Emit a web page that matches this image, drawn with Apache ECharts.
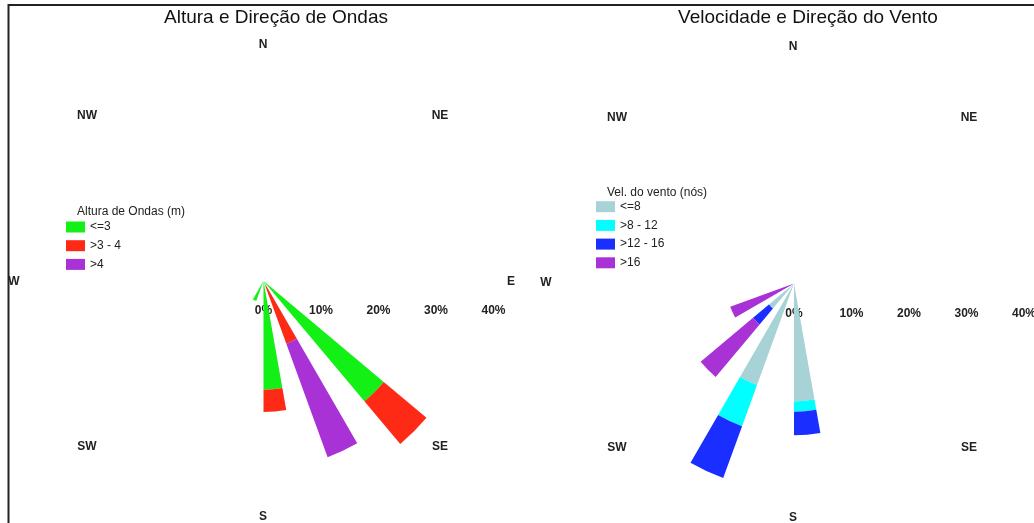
<!DOCTYPE html>
<html>
<head>
<meta charset="utf-8">
<script src="https://cdn.jsdelivr.net/npm/echarts@6/dist/echarts.min.js"></script>
<style>
html,body{margin:0;padding:0;background:#fff;}
#c{width:1034px;height:523px;}
</style>
</head>
<body>
<div id="c"></div>
<script>
// 36 direction bins (start bearing, degrees clockwise from North), ordered clockwise from East
const binStarts = [90,100,110,120,130,140,150,160,170,180,190,200,210,220,230,240,250,260,
                   270,280,290,300,310,320,330,340,350,0,10,20,30,40,50,60,70,80];

// Left rose: wave height (% frequency)
const waveBearings = [130, 150, 170, 200];
const waveLe3      = [27.3, 1.0, 18.9, 3.7];
const wave3to4     = [9.7, 10.6, 3.9, 0];
const waveGt4      = [0, 21.0, 0, 0];
const waveNames    = ['<=3', '>3 - 4', '>4'];

// Right rose: wind speed (% frequency)
const windBearings = [170, 200, 220, 240];
const windLe8      = [20.5, 18.8, 5.7, 0];
const wind8to12    = [1.8, 7.6, 0, 0];
const wind12to16   = [4.1, 9.6, 3.6, 0];
const windGt16     = [0, 0, 11.9, 11.8];
const windNames    = ['<=8', '>8 - 12', '>12 - 16', '>16'];

const radialTicks = [0, 10, 20, 30, 40];
const compass = ['N','NE','E','SE','S','SW','W','NW'];

function spread(bearings, vals) {
  const out = binStarts.map(() => 0);
  bearings.forEach((b, i) => { out[binStarts.indexOf(b)] = vals[i]; });
  return out;
}

const FONT = "'Liberation Sans', Arial, Helvetica, sans-serif";
const chart = echarts.init(document.getElementById('c'), null, {renderer: 'canvas'});

function angleAxis(idx) {
  return {
    polarIndex: idx, type: 'category', data: binStarts.map(String),
    startAngle: 0, clockwise: true, boundaryGap: true,
    axisLine: {show: false}, axisTick: {show: false},
    axisLabel: {show: false}, splitLine: {show: false}, splitArea: {show: false}
  };
}
function radiusAxis(idx) {
  return {
    polarIndex: idx, type: 'value', min: radialTicks[0], max: radialTicks[radialTicks.length - 1], interval: 10,
    axisLine: {show: false}, axisTick: {show: false}, splitLine: {show: false},
    axisLabel: {formatter: '{value}%', fontFamily: FONT, fontSize: 12, fontWeight: 'bold', color: '#222',
                margin: -30, verticalAlign: 'middle', align: 'center'}
  };
}
function barSeries(name, polarIndex, data, color) {
  return {
    type: 'bar', name: name, coordinateSystem: 'polar', polarIndex: polarIndex,
    stack: 'p' + polarIndex, data: data, barCategoryGap: '0%',
    itemStyle: {color: color}, emphasis: {disabled: true}, animation: false
  };
}

function txt(text, x, y, font, fill, align) {
  return {type: 'text', x: x, y: y, silent: true,
    style: {text: text, font: font, fill: fill, align: align || 'center', verticalAlign: 'middle'}};
}

const leftCompassPos  = [[263,45],[440,116],[511,282],[440,447],[263,517],[87,447],[14,282],[87,116]];
const rightCompassPos = [[793,47],[969,118],[1041,283],[969,448],[793,518],[617,448],[546,283],[617,118]];

const graphics = [
  {type: 'rect', silent: true, shape: {x: 8.5, y: 5, width: 1200, height: 700},
   style: {fill: 'none', stroke: '#222', lineWidth: 2}},
  txt('Altura e Direção de Ondas', 276, 18, '19px ' + FONT, '#111'),
  txt('Velocidade e Direção do Vento', 808, 18, '19px ' + FONT, '#111'),
  txt('Altura de Ondas (m)', 77, 212, '12px ' + FONT, '#222', 'left'),
  txt('Vel. do vento (nós)', 607, 193, '12px ' + FONT, '#222', 'left')
];
compass.forEach((c, i) => {
  graphics.push(txt(c, leftCompassPos[i][0], leftCompassPos[i][1], 'bold 12px ' + FONT, '#222'));
  graphics.push(txt(c, rightCompassPos[i][0], rightCompassPos[i][1], 'bold 12px ' + FONT, '#222'));
});

const legendCommon = {
  orient: 'vertical', itemWidth: 19, itemHeight: 11, itemGap: 6.7, icon: 'rect', padding: 0,
  textStyle: {fontFamily: FONT, fontSize: 12, color: '#222', lineHeight: 12}, selectedMode: false
};

chart.setOption({
  animation: false,
  backgroundColor: '#fff',
  polar: [
    {center: [263.5, 281], radius: 230},
    {center: [794, 283.5], radius: 230}
  ],
  angleAxis: [angleAxis(0), angleAxis(1)],
  radiusAxis: [radiusAxis(0), radiusAxis(1)],
  legend: [
    Object.assign({}, legendCommon, {data: waveNames, left: 66, top: 221}),
    Object.assign({}, legendCommon, {data: windNames, left: 596, top: 200.7})
  ],
  graphic: graphics,
  series: [
    barSeries(waveNames[0], 0, spread(waveBearings, waveLe3), '#12f016'),
    barSeries(waveNames[1], 0, spread(waveBearings, wave3to4), '#ff2a16'),
    barSeries(waveNames[2], 0, spread(waveBearings, waveGt4), '#a832d6'),
    barSeries(windNames[0], 1, spread(windBearings, windLe8), '#a8d3d6'),
    barSeries(windNames[1], 1, spread(windBearings, wind8to12), '#00ffff'),
    barSeries(windNames[2], 1, spread(windBearings, wind12to16), '#1a2eff'),
    barSeries(windNames[3], 1, spread(windBearings, windGt16), '#a832d6')
  ]
});
</script>
</body>
</html>
